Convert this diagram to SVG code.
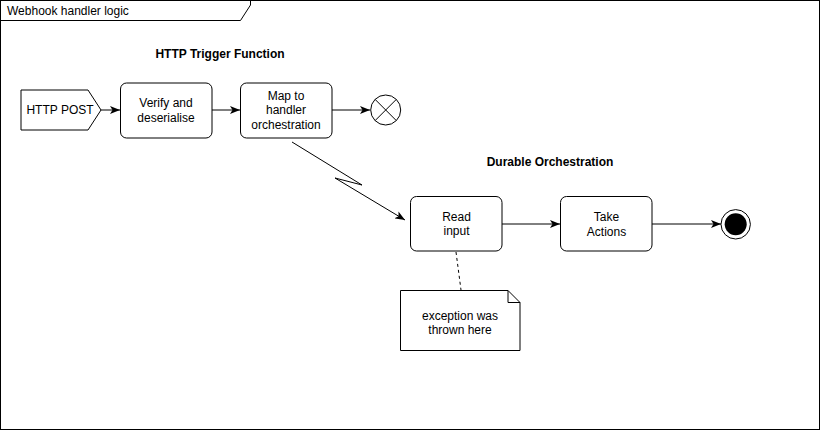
<svg xmlns="http://www.w3.org/2000/svg" width="821" height="431" viewBox="0 0 821 431">
<style>
.s{fill:#fff;stroke:#000;stroke-width:1}
.t{font-family:"Liberation Sans",Arial,sans-serif;font-size:12px;fill:#000;text-anchor:middle}
.b{font-weight:bold}
.c{fill:none;stroke:#000;stroke-width:1}
</style>
<defs>
<marker id="a" viewBox="0 0 10 8" refX="10" refY="4" markerWidth="10" markerHeight="8" markerUnits="userSpaceOnUse" orient="auto">
<path d="M0,0 L10,4 L0,8 L2.5,4 z" fill="#000"/>
</marker>
</defs>
<rect width="821" height="431" fill="#fff"/>
<g id="frame">
<rect x="0.5" y="0.5" width="819" height="429" class="s"/>
<path d="M0.5,20.5 L240.5,20.5 L250.5,5 L250.5,0.5" class="c"/>
<text x="7" y="15" class="t" style="text-anchor:start">Webhook handler logic</text>
</g>
<text x="220" y="58" class="t b">HTTP Trigger Function</text>
<text x="550" y="166" class="t b">Durable Orchestration</text>
<g id="connectors">
<line x1="101" y1="110" x2="120" y2="110" class="c" marker-end="url(#a)"/>
<line x1="212" y1="110" x2="240" y2="110" class="c" marker-end="url(#a)"/>
<line x1="332" y1="110" x2="370" y2="110" class="c" marker-end="url(#a)"/>
<path d="M292,142 L362,185 L335,178 L405,220" class="c" marker-end="url(#a)"/>
<line x1="502" y1="224" x2="560" y2="224" class="c" marker-end="url(#a)"/>
<line x1="652" y1="224" x2="721" y2="224" class="c" marker-end="url(#a)"/>
<line x1="456" y1="252" x2="461" y2="290" class="c" stroke-dasharray="3 3"/>
</g>
<g id="http-post">
<path d="M21,90 L88,90 L101,110 L88,130 L21,130 Z" class="s"/>
<text x="60" y="114" class="t">HTTP POST</text>
</g>
<g id="verify">
<rect x="120.5" y="83" width="91.5" height="55" rx="6" class="s"/>
<text x="166" y="107" class="t">Verify and</text>
<text x="166" y="121.5" class="t">deserialise</text>
</g>
<g id="map">
<rect x="240.5" y="83" width="91.5" height="55" rx="6" class="s"/>
<text x="286" y="100" class="t">Map to</text>
<text x="286" y="114" class="t">handler</text>
<text x="286" y="128.5" class="t">orchestration</text>
</g>
<g id="flow-end">
<circle cx="385.7" cy="110" r="15" class="s"/>
<path d="M375.1,99.4 L396.3,120.6 M396.3,99.4 L375.1,120.6" class="c"/>
</g>
<g id="read-input">
<rect x="410.5" y="196.5" width="91.5" height="54.5" rx="6" class="s"/>
<text x="456.5" y="221" class="t">Read</text>
<text x="456.5" y="235" class="t">input</text>
</g>
<g id="take-actions">
<rect x="560.5" y="196.5" width="91.5" height="54.5" rx="6" class="s"/>
<text x="606.5" y="221" class="t">Take</text>
<text x="606.5" y="236" class="t">Actions</text>
</g>
<g id="final">
<circle cx="735.7" cy="224.3" r="14.7" class="s"/>
<circle cx="735.7" cy="224.3" r="11" fill="#000"/>
</g>
<g id="note">
<path d="M400.5,290.5 L508,290.5 L520,302.5 L520,350.5 L400.5,350.5 Z" class="s"/>
<path d="M508,290.5 L508,302.5 L520,302.5" class="c"/>
<text x="460" y="320" class="t">exception was</text>
<text x="460" y="334" class="t">thrown here</text>
</g>
</svg>
